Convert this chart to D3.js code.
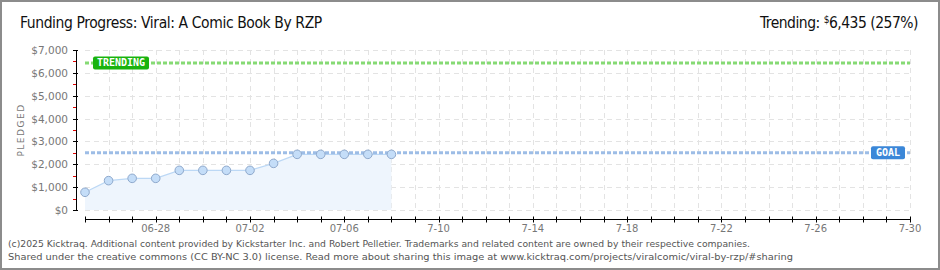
<!DOCTYPE html>
<html>
<head>
<meta charset="utf-8">
<script src="https://cdn.jsdelivr.net/npm/d3@7"></script>
<style>
  body { margin: 0; background: #fff; }
  svg { display: block; }
</style>
</head>
<body>
<div id="chart"></div>
<script>
// Pledged totals per day
var dates = ['2025-06-25', '2025-06-26', '2025-06-27', '2025-06-28', '2025-06-29', '2025-06-30', '2025-07-01',
             '2025-07-02', '2025-07-03', '2025-07-04', '2025-07-05', '2025-07-06', '2025-07-07', '2025-07-08'];
var pledged = [775, 1285, 1385, 1385, 1735, 1735, 1735, 1735, 2040, 2435, 2435, 2435, 2435, 2435];
var goal = 2500;
var trending = 6435;
var yTicks = [0, 1000, 2000, 3000, 4000, 5000, 6000, 7000];
var xLabels = [['2025-06-28', '06-28'], ['2025-07-02', '07-02'], ['2025-07-06', '07-06'], ['2025-07-10', '7-10'],
               ['2025-07-14', '7-14'], ['2025-07-18', '7-18'], ['2025-07-22', '7-22'], ['2025-07-26', '7-26'],
               ['2025-07-30', '7-30']];

var width = 940, height = 270;
var margin = { left: 86, right: 30, top: 50, bottom: 60 };
var parse = d3.timeParse('%Y-%m-%d');

var data = dates.map(function(d, i) { return { date: parse(d), value: pledged[i] }; });

var xScale = d3.scaleTime()
    .domain([parse('2025-06-25'), parse('2025-07-30')])
    .range([margin.left - 1, width - margin.right]);
var yScale = d3.scaleLinear()
    .domain([0, 7000])
    .range([height - margin.bottom, margin.top]);

var svg = d3.select('#chart').append('svg')
    .attr('width', width)
    .attr('height', height);

// frame
svg.append('rect')
    .attr('x', 1).attr('y', 1)
    .attr('width', width - 2).attr('height', height - 2)
    .attr('fill', '#fff')
    .attr('stroke', '#8c8c8c')
    .attr('stroke-width', 2);

// titles
svg.append('text')
    .attr('x', 20).attr('y', 28)
    .attr('font-family', 'DejaVu Sans Condensed, DejaVu Sans')
    .attr('font-size', 15.5)
    .attr('fill', '#111')
    .attr('letter-spacing', -0.4)
    .text('Funding Progress: Viral: A Comic Book By RZP');

var trendText = svg.append('text')
    .attr('x', 918).attr('y', 28)
    .attr('text-anchor', 'end')
    .attr('font-family', 'DejaVu Sans Condensed, DejaVu Sans')
    .attr('font-size', 15.5)
    .attr('letter-spacing', -0.5)
    .attr('fill', '#111');
trendText.append('tspan').text('Trending:  ');
trendText.append('tspan').attr('font-size', 10).attr('dy', -5).text('$');
trendText.append('tspan').attr('dy', 5).text(d3.format(',')(trending) + ' (' + Math.round(trending / goal * 100) + '%)');

var days = d3.timeDay.range(xScale.domain()[0], d3.timeDay.offset(xScale.domain()[1], 1));

// grid
var grid = svg.append('g').attr('class', 'grid')
    .attr('stroke', '#e3e3e3')
    .attr('stroke-dasharray', '5,4');
grid.selectAll('line.v').data(days.slice(1)).enter().append('line')
    .attr('class', 'v')
    .attr('x1', function(d) { return Math.round(xScale(d)) + 0.5; })
    .attr('x2', function(d) { return Math.round(xScale(d)) + 0.5; })
    .attr('y1', yScale(7000)).attr('y2', yScale(0));
grid.selectAll('line.h').data(yTicks).enter().append('line')
    .attr('class', 'h')
    .attr('x1', xScale.range()[0]).attr('x2', xScale.range()[1])
    .attr('y1', function(d) { return Math.round(yScale(d)) + 0.5; })
    .attr('y2', function(d) { return Math.round(yScale(d)) + 0.5; });

// area + line + points
var area = d3.area()
    .x(function(d) { return xScale(d.date); })
    .y0(yScale(0))
    .y1(function(d) { return yScale(d.value); });
var line = d3.line()
    .x(function(d) { return xScale(d.date); })
    .y(function(d) { return yScale(d.value); });

svg.append('path').datum(data)
    .attr('d', area)
    .attr('fill', '#eef5fd');
svg.append('path').datum(data)
    .attr('d', line)
    .attr('fill', 'none')
    .attr('stroke', '#bcd8f5')
    .attr('stroke-width', 1.2);

// goal / trending lines
function refLine(value, color) {
    svg.append('line')
        .attr('x1', xScale.range()[0]).attr('x2', xScale.range()[1])
        .attr('y1', yScale(value)).attr('y2', yScale(value))
        .attr('stroke', color)
        .attr('stroke-width', 3)
        .attr('stroke-dasharray', '4,2');
}
refLine(goal, '#9dbde6');
refLine(trending, '#86da74');

svg.selectAll('circle.pt').data(data).enter().append('circle')
    .attr('class', 'pt')
    .attr('cx', function(d) { return xScale(d.date); })
    .attr('cy', function(d) { return yScale(d.value); })
    .attr('r', 4.3)
    .attr('fill', '#c4ddf8')
    .attr('stroke', '#8fa9cc')
    .attr('stroke-width', 1);

// badges
function badge(x, value, w, color, label) {
    var g = svg.append('g').attr('transform', 'translate(' + x + ',' + (yScale(value) - 6.5) + ')');
    g.append('rect')
        .attr('width', w).attr('height', 13)
        .attr('rx', 2)
        .attr('fill', color);
    g.append('text')
        .attr('x', w / 2).attr('y', 10)
        .attr('text-anchor', 'middle')
        .attr('font-family', 'DejaVu Sans Mono, monospace')
        .attr('font-size', 10)
        .attr('font-weight', 'bold')
        .attr('fill', '#fff')
        .text(label);
}
badge(93, trending, 56, '#19b30e', 'TRENDING');
badge(871, goal, 34, '#3b87d8', 'GOAL');

// y axis
var yAxisG = svg.append('g').attr('transform', 'translate(76,0)');
yAxisG.append('line')
    .attr('x1', 0.5).attr('x2', 0.5)
    .attr('y1', yScale(7000)).attr('y2', yScale(0))
    .attr('stroke', '#000');
yAxisG.selectAll('line.minor').data(d3.range(500, 7000, 1000)).enter().append('line')
    .attr('class', 'minor')
    .attr('x1', -3).attr('x2', 0)
    .attr('y1', function(d) { return Math.round(yScale(d)) + 0.5; })
    .attr('y2', function(d) { return Math.round(yScale(d)) + 0.5; })
    .attr('stroke', '#e00000');
yAxisG.selectAll('line.major').data(yTicks).enter().append('line')
    .attr('class', 'major')
    .attr('x1', -3).attr('x2', 2)
    .attr('y1', function(d) { return Math.round(yScale(d)) + 0.5; })
    .attr('y2', function(d) { return Math.round(yScale(d)) + 0.5; })
    .attr('stroke', '#000');
yAxisG.selectAll('text').data(yTicks).enter().append('text')
    .attr('x', -8)
    .attr('y', function(d) { return yScale(d) + 4; })
    .attr('text-anchor', 'end')
    .attr('font-family', 'DejaVu Sans')
    .attr('font-size', 10.5)
    .attr('fill', '#777')
    .text(function(d) { return '$' + d3.format(',')(d); });

svg.append('text')
    .attr('transform', 'translate(24,' + yScale(3500) + ') rotate(-90)')
    .attr('text-anchor', 'middle')
    .attr('font-family', 'DejaVu Sans')
    .attr('font-size', 9)
    .attr('letter-spacing', 1.5)
    .attr('fill', '#777')
    .text('PLEDGED');

// x axis
var xAxisY = 219.5;
var xAxisG = svg.append('g');
xAxisG.append('line')
    .attr('x1', xScale.range()[0]).attr('x2', xScale.range()[1] + 1)
    .attr('y1', xAxisY).attr('y2', xAxisY)
    .attr('stroke', '#000');
xAxisG.selectAll('line.tick').data(days).enter().append('line')
    .attr('class', 'tick')
    .attr('x1', function(d) { return Math.round(xScale(d)) + 0.5; })
    .attr('x2', function(d) { return Math.round(xScale(d)) + 0.5; })
    .attr('y1', xAxisY - 3).attr('y2', xAxisY + 3)
    .attr('stroke', '#000');
xAxisG.selectAll('text').data(xLabels).enter().append('text')
    .attr('x', function(d) { return xScale(parse(d[0])); })
    .attr('y', 232)
    .attr('text-anchor', 'middle')
    .attr('font-family', 'DejaVu Sans')
    .attr('font-size', 10)
    .attr('fill', '#777')
    .text(function(d) { return d[1]; });

// footer
var footer = [
    '(c)2025 Kicktraq. Additional content provided by Kickstarter Inc. and Robert Pelletier. Trademarks and related content are owned by their respective companies.',
    'Shared under the creative commons (CC BY-NC 3.0) license. Read more about sharing this image at www.kicktraq.com/projects/viralcomic/viral-by-rzp/#sharing'
];
var footerEnds = [750, 793];
svg.selectAll('text.footer').data(footer).enter().append('text')
    .attr('class', 'footer')
    .attr('x', 8)
    .attr('y', function(d, i) { return 247 + i * 12.5; })
    .attr('font-family', 'DejaVu Sans Condensed, DejaVu Sans')
    .attr('font-size', 9.5)
    .attr('fill', '#555')
    .attr('textLength', function(d, i) { return footerEnds[i] - 8; })
    .attr('lengthAdjust', 'spacingAndGlyphs')
    .text(function(d) { return d; });
</script>
</body>
</html>
